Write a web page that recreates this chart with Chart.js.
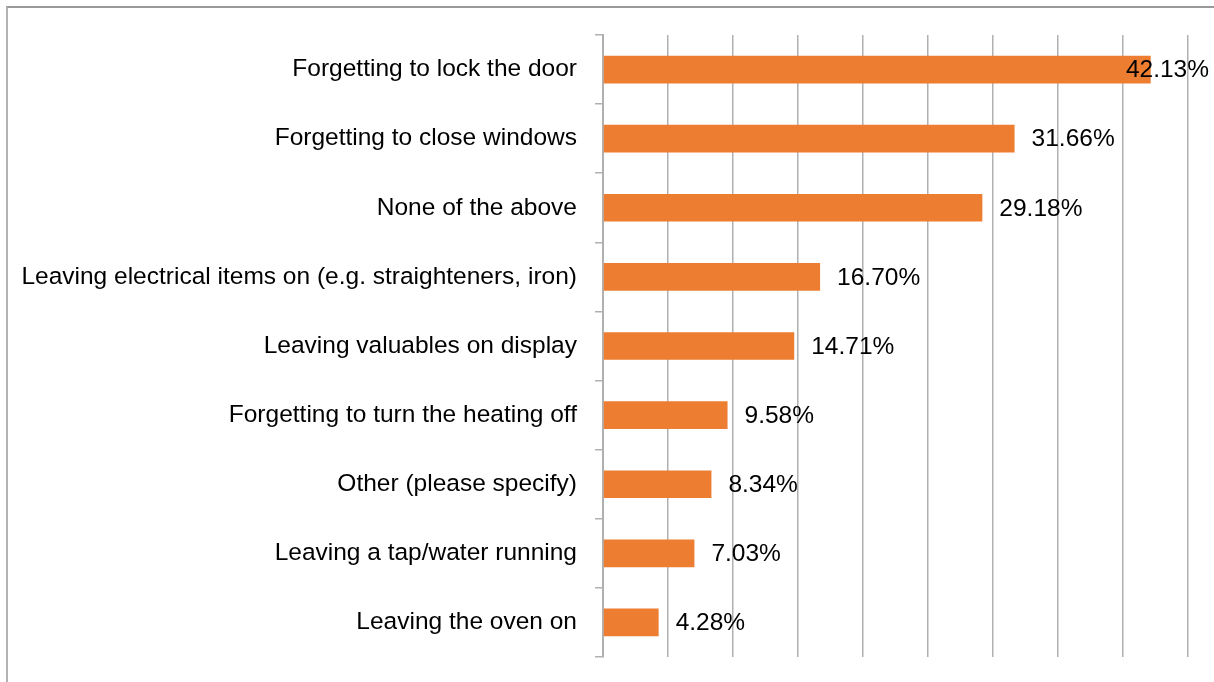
<!DOCTYPE html>
<html>
<head>
<meta charset="utf-8">
<script src="https://cdn.jsdelivr.net/npm/chart.js@4/dist/chart.umd.min.js"></script>
<style>
  html, body { margin: 0; padding: 0; background: #fff; }
  #wrap { position: relative; width: 1214px; height: 682px; overflow: hidden; }
  #frame {
    position: absolute; left: 6px; top: 6px; width: 1220px; height: 690px;
    border-left: 2px solid #b3b3b3; border-top: 2px solid #999;
    box-sizing: border-box; pointer-events: none;
  }
  canvas { position: absolute; left: 0; top: 0; }
</style>
</head>
<body>
<div id="wrap">
  <canvas id="chart" width="1214" height="682"></canvas>
  <div id="frame"></div>
</div>
<script>
// survey answers, percent of respondents
const categories = [
  'Forgetting to lock the door',
  'Forgetting to close windows',
  'None of the above',
  'Leaving electrical items on (e.g. straighteners, iron)',
  'Leaving valuables on display',
  'Forgetting to turn the heating off',
  'Other (please specify)',
  'Leaving a tap/water running',
  'Leaving the oven on'
];
const values = [42.13, 31.66, 29.18, 16.70, 14.71, 9.58, 8.34, 7.03, 4.28];
const valueLabels = ['42.13%', '31.66%', '29.18%', '16.70%', '14.71%', '9.58%', '8.34%', '7.03%', '4.28%'];

const FONT = '"Liberation Sans", Arial, sans-serif';
const GRID = '#b0b0b0';

// Excel-style value labels at the outside end, pushed back in when they run off the edge
const barLabels = {
  id: 'barLabels',
  afterDatasetsDraw(chart) {
    const ctx = chart.ctx;
    const meta = chart.getDatasetMeta(0);
    ctx.save();
    ctx.font = '24.5px ' + FONT;
    ctx.fillStyle = '#000';
    ctx.textBaseline = 'middle';
    ctx.textAlign = 'left';
    meta.data.forEach((bar, i) => {
      const txt = valueLabels[i];
      const w = ctx.measureText(txt).width;
      let x = bar.x + 17;
      if (x + w > chart.width - 5) x = chart.width - 5 - w;
      ctx.fillText(txt, x, bar.y + 1);
    });
    ctx.restore();
  }
};

new Chart(document.getElementById('chart'), {
  type: 'bar',
  data: {
    labels: categories,
    datasets: [{
      data: values,
      backgroundColor: '#ED7D31',
      barPercentage: 0.4,
      categoryPercentage: 1.0
    }]
  },
  options: {
    indexAxis: 'y',
    responsive: false,
    animation: false,
    layout: { padding: { left: 0, right: 26, top: 35, bottom: 25 } },
    plugins: {
      legend: { display: false },
      tooltip: { enabled: false }
    },
    scales: {
      x: {
        min: 0,
        max: 45,
        afterFit(axis) { axis.height = 0; axis.paddingLeft = 0; axis.paddingRight = 0; },
        ticks: { stepSize: 5, display: false },
        grid: { color: GRID, lineWidth: 1.5, drawTicks: false },
        border: { display: false }
      },
      y: {
        afterFit(axis) { axis.width = 603; axis.paddingTop = 0; axis.paddingBottom = 0; },
        ticks: {
          color: '#000',
          padding: 18,
          font: { family: FONT, size: 24.5 }
        },
        grid: {
          offset: true,
          drawOnChartArea: false,
          color: GRID,
          lineWidth: 1.5,
          tickLength: 8
        },
        border: { display: true, color: GRID, width: 2 }
      }
    }
  },
  plugins: [barLabels]
});
</script>
</body>
</html>
